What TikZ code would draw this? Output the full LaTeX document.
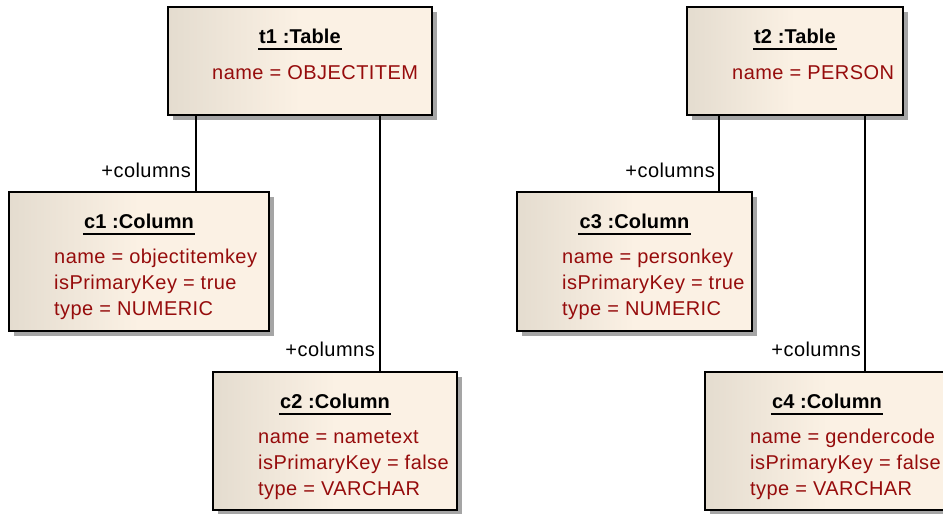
\documentclass[tikz,border=0pt]{standalone}
\usepackage{fontspec}
\setmainfont{Liberation Sans}
\newfontfamily\attfont[LetterSpace=2.3]{Liberation Sans}
\newfontfamily\ttlfont[LetterSpace=0.6]{Liberation Sans}
\usetikzlibrary{shadows,calc}
\definecolor{boxL}{RGB}{228,220,207}
\definecolor{boxR}{RGB}{251,241,228}
\definecolor{attr}{RGB}{150,12,12}
\definecolor{shad}{RGB}{165,165,165}
\tikzset{
  objbox/.style={draw=black, line width=1.6pt, left color=boxL, right color=boxR, middle color=boxR,
    drop shadow={shadow xshift=5pt, shadow yshift=-5pt, fill=shad, opacity=1},
    anchor=north west, inner sep=0pt, outer sep=0pt},
  ttl/.style={font=\ttlfont\bfseries\fontsize{20}{24}\selectfont, inner sep=0pt, anchor=base},
  att/.style={font=\attfont\fontsize{20}{26}\selectfont, text=attr, inner sep=0pt, anchor=base west},
  lab/.style={font=\attfont\fontsize{20}{24}\selectfont, inner sep=0pt, anchor=base east},
  conn/.style={line width=1.3pt},
  uline/.style={line width=1.3pt},
}
\begin{document}
\begin{tikzpicture}[x=1pt,y=-1pt]
\clip (0,0) rectangle (943,514);
\coordinate (k1) at (196,150);
\coordinate (k2) at (380,150);
\coordinate (k3) at (719,150);
\coordinate (k4) at (865,150);

% t1
\node[objbox, minimum width=264pt, minimum height=108pt] (t1) at (168,7) {};
\node[ttl] (t1t) at ($(t1.north)+(0,36)$) {t1 :Table};
\draw[uline] ($(t1t.base west)+(-1,6)$) -- ($(t1t.base east)+(1,6)$);
\node[att] (t1a) at ($(t1.north west)+(44,72)$) {name = OBJECTITEM};

% t2
\node[objbox, minimum width=216pt, minimum height=108pt] (t2) at (687,7) {};
\node[ttl] (t2t) at ($(t2.north)+(0,36)$) {t2 :Table};
\draw[uline] ($(t2t.base west)+(-1,6)$) -- ($(t2t.base east)+(1,6)$);
\node[att] (t2a) at ($(t2.north west)+(45,72)$) {name = PERSON};

% c1
\node[objbox, minimum width=260pt, minimum height=139pt] (c1) at (9,192) {};
\node[ttl] (c1t) at ($(c1.north)+(0,36)$) {c1 :Column};
\draw[uline] ($(c1t.base west)+(-1,6)$) -- ($(c1t.base east)+(1,6)$);
\node[att] (c1a) at ($(c1.north west)+(45,71)$) {name = objectitemkey};
\node[att] (c1b) at ($(c1.north west)+(45,97)$) {isPrimaryKey = true};
\node[att] (c1c) at ($(c1.north west)+(45,123)$) {type = NUMERIC};

% c2
\node[objbox, minimum width=244pt, minimum height=138pt] (c2) at (213,372) {};
\node[ttl] (c2t) at ($(c2.north)+(0,36)$) {c2 :Column};
\draw[uline] ($(c2t.base west)+(-1,6)$) -- ($(c2t.base east)+(1,6)$);
\node[att] (c2a) at ($(c2.north west)+(45,71)$) {name = nametext};
\node[att] (c2b) at ($(c2.north west)+(45,97)$) {isPrimaryKey = false};
\node[att] (c2c) at ($(c2.north west)+(45,123)$) {type = VARCHAR};

% c3
\node[objbox, minimum width=235pt, minimum height=139pt] (c3) at (517,192) {};
\node[ttl] (c3t) at ($(c3.north)+(0,36)$) {c3 :Column};
\draw[uline] ($(c3t.base west)+(-1,6)$) -- ($(c3t.base east)+(1,6)$);
\node[att] (c3a) at ($(c3.north west)+(45,71)$) {name = personkey};
\node[att] (c3b) at ($(c3.north west)+(45,97)$) {isPrimaryKey = true};
\node[att] (c3c) at ($(c3.north west)+(45,123)$) {type = NUMERIC};

% c4
\node[objbox, minimum width=244pt, minimum height=138pt] (c4) at (705,372) {};
\node[ttl] (c4t) at ($(c4.north)+(0,36)$) {c4 :Column};
\draw[uline] ($(c4t.base west)+(-1,6)$) -- ($(c4t.base east)+(1,6)$);
\node[att] (c4a) at ($(c4.north west)+(45,71)$) {name = gendercode};
\node[att] (c4b) at ($(c4.north west)+(45,97)$) {isPrimaryKey = false};
\node[att] (c4c) at ($(c4.north west)+(45,123)$) {type = VARCHAR};

% connectors
\draw[conn] (k1 |- t1.south) -- (k1 |- c1.north);
\draw[conn] (k2 |- t1.south) -- (k2 |- c2.north);
\draw[conn] (k3 |- t2.south) -- (k3 |- c3.north);
\draw[conn] (k4 |- t2.south) -- (k4 |- c4.north);

\node[lab] (l1) at (191,177) {+columns};
\node[lab] (l2) at (375,356) {+columns};
\node[lab] (l3) at (715,177) {+columns};
\node[lab] (l4) at (861,356) {+columns};
\end{tikzpicture}
\end{document}
